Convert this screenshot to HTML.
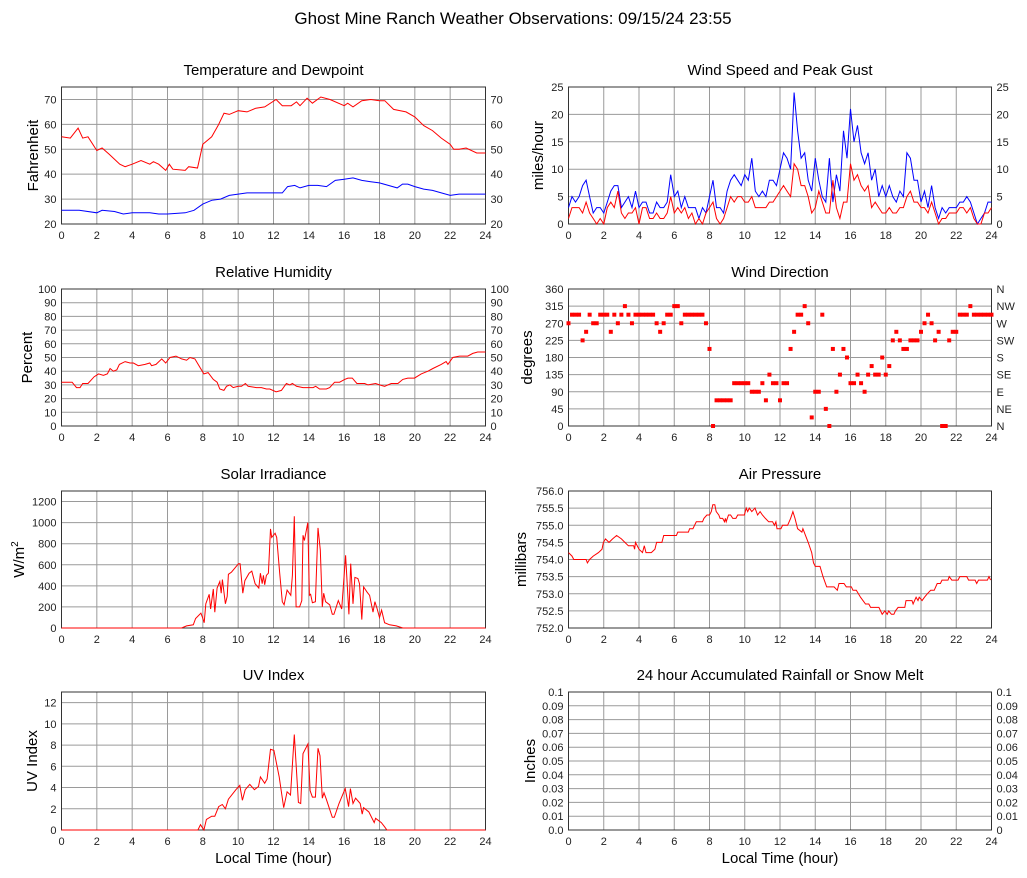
<!DOCTYPE html>
<html><head><meta charset="utf-8">
<style>
html,body{margin:0;padding:0;background:#fff;}
svg{display:block;font-family:"Liberation Sans",sans-serif;}
</style></head>
<body>
<svg id="chart" width="1027" height="878" viewBox="0 0 1027 878">
<rect width="1027" height="878" fill="#fff"/>
<text x="513" y="24" text-anchor="middle" font-size="17" fill="#000">Ghost Mine Ranch Weather Observations: 09/15/24 23:55</text>
</svg>
<script>
// ---- data ----
const tempHours=[0,0.5,0.94,1.2,1.5,2,2.3,2.7,3,3.3,3.6,4,4.5,5,5.2,5.5,5.9,6.1,6.3,7,7.2,7.7,8,8.5,8.9,9.2,9.5,10,10.5,11,11.5,12.15,12.5,13,13.3,13.5,13.9,14.2,14.68,15.2,16,16.2,16.5,17,17.5,18,18.3,18.8,19.5,20,20.5,21,21.5,22,22.2,22.5,22.9,23.5,24];
const tempValues=[55,54.5,58.5,54.5,55,49.5,50.5,48,46,44,43,44,45.5,44,45,44,41.5,44,42,41.5,43,42.5,52,55,60,64.5,64,65.5,65,66.5,67,70,67.5,67.5,69,67.5,70.5,68.5,71,70,67.5,68.5,67,69.5,70,69.5,69.5,66,65,63,59.5,57.5,54.5,52,50,50,50.5,48.5,48.5];
const dewHours=[0,0.5,1,2,2.3,3,3.5,4,5,5.5,6,7,7.5,8,8.5,9,9.5,10,10.5,11,12,12.5,12.8,13.2,13.5,14,14.5,15,15.5,16,16.5,17,17.5,18,18.5,19,19.3,19.6,20,20.5,21,21.5,22,22.5,23,24];
const dewValues=[25.5,25.5,25.5,24.5,25.5,25,24,24.5,24.5,24,24,24.5,25.5,28,29.5,30,31.5,32,32.5,32.5,32.5,32.5,35,35.5,34.5,35.5,35.5,35,37.5,38,38.5,37.5,37,36.5,35.5,34.5,36,36,35,34,33.5,32.5,31.5,32,32,32];
const windHours=[0,0.2,0.4,0.6,0.8,1,1.2,1.4,1.6,1.8,2,2.2,2.4,2.6,2.8,3,3.2,3.4,3.6,3.8,4,4.2,4.4,4.6,4.8,5,5.2,5.4,5.6,5.8,6,6.2,6.4,6.6,6.8,7,7.2,7.4,7.6,7.8,8,8.2,8.4,8.6,8.8,9,9.2,9.4,9.6,9.8,10,10.2,10.4,10.6,10.8,11,11.2,11.4,11.6,11.8,12,12.2,12.4,12.6,12.8,13,13.2,13.4,13.6,13.8,14,14.2,14.4,14.6,14.8,15,15.2,15.4,15.6,15.8,16,16.2,16.4,16.6,16.8,17,17.2,17.4,17.6,17.8,18,18.2,18.4,18.6,18.8,19,19.2,19.4,19.6,19.8,20,20.2,20.4,20.6,20.8,21,21.2,21.4,21.6,21.8,22,22.2,22.4,22.6,22.8,23,23.2,23.4,23.6,23.8,24];
const gustValues=[3,5,4,5,7,8,5,2,3,3,2,4,6,7,7,3,4,5,3,6,3,4,4,2,2,4,3,3,4,9,5,6,3,5,3,3,3,1,3,2,5,8,3,3,2,6,8,9,8,7,9,8,12,6,5,6,5,8,8,7,10,13,12,10,24,17,12,13,8,6,12,8,5,4,12,4,9,6,17,12,21,15,18,13,11,13,8,10,5,7,5,7,5,4,6,5,13,12,8,8,4,6,3,7,3,1,3,2,3,3,3,4,4,5,4,2,0,1,2,4,4];
const speedValues=[1,3,3,3,2,4,2,1,0,1,0,3,4,3,6,2,1,2,2,3,0,3,3,1,1,2,1,1,2,5,2,3,2,3,1,2,0,1,0,2,3,4,1,0,1,3,5,4,5,5,4,4,5,3,3,3,3,4,4,5,6,7,6,5,11,10,7,7,5,2,3,6,4,2,2,8,3,1,4,4,11,8,9,7,6,7,3,4,3,2,2,3,2,2,3,3,5,6,4,4,3,3,2,4,2,0,1,1,2,2,2,3,3,2,3,1,0,0,2,2,3];
const dirValues=[270,292.5,292.5,292.5,225,247.5,292.5,270,270,292.5,292.5,292.5,247.5,292.5,270,292.5,315,292.5,270,292.5,292.5,292.5,292.5,292.5,292.5,270,247.5,270,292.5,292.5,315,315,270,292.5,292.5,292.5,292.5,292.5,292.5,270,202.5,0,67.5,67.5,67.5,67.5,67.5,112.5,112.5,112.5,112.5,112.5,90,90,90,112.5,67.5,135,112.5,112.5,67.5,112.5,112.5,202.5,247.5,292.5,292.5,315,270,22.5,90,90,292.5,45,0,202.5,90,135,202.5,180,112.5,112.5,135,112.5,90,135,157.5,135,135,180,135,157.5,225,247.5,225,202.5,202.5,225,225,225,247.5,270,292.5,270,225,247.5,0,0,225,247.5,247.5,292.5,292.5,292.5,315,292.5,292.5,292.5,292.5,292.5,292.5];
const humHours=[0,0.6,0.85,1.05,1.2,1.5,1.85,2.1,2.37,2.6,2.75,2.94,3.13,3.28,3.6,3.88,4.07,4.35,4.73,5,5.1,5.35,5.67,5.9,6.14,6.48,6.8,7.08,7.27,7.55,7.83,8.06,8.3,8.59,8.81,8.96,9.19,9.34,9.53,9.72,10,10.19,10.41,10.56,11.04,11.32,11.6,11.79,12.15,12.45,12.73,12.92,13.07,13.3,13.67,14.24,14.39,14.61,14.99,15.18,15.46,15.74,16.03,16.21,16.46,16.72,16.97,17.16,17.35,17.78,18,18.29,18.66,19.04,19.32,19.6,19.98,20.36,20.74,21.02,21.49,21.77,21.87,22.15,22.53,23,23.28,23.56,24];
const humValues=[32,32,28,28,31,31,36,38,37,38,42,40,41,45,47,46,46,44,45,46,44,45,49,46,50,51,49,48,50,49,43,38,39,34,32,27,26,29,30,28,29,29,31,29,28,28,27,27,25,26,31,30,31,29,28,28,29,27,27,28,32,32,34,35,35,31,31,31,30,31,30,29,31,31,34,35,35,38,40,42,45,47,45,50,51,51,53,54,54];
const solarHours=[0,6.8,7.08,7.46,7.59,7.89,7.98,8.08,8.17,8.36,8.44,8.59,8.68,8.81,8.96,9.04,9.11,9.28,9.38,9.45,9.62,10.02,10.11,10.26,10.38,10.62,10.77,10.96,11.17,11.26,11.36,11.43,11.5,11.6,11.71,11.83,11.9,12.09,12.18,12.35,12.5,12.6,12.77,12.98,13.07,13.18,13.28,13.48,13.6,13.67,13.75,13.94,14.03,14.1,14.2,14.37,14.52,14.65,14.76,14.84,14.95,15.18,15.33,15.42,15.67,15.86,16.08,16.27,16.37,16.5,16.61,16.78,16.87,17,17.1,17.3,17.44,17.63,17.74,17.87,18,18.12,18.29,18.57,18.95,19.32,24];
const solarValues=[0,0,20,30,90,140,100,50,230,320,180,370,150,380,440,330,460,230,300,510,530,610,610,330,450,520,540,420,380,520,420,500,410,500,520,940,860,900,860,520,250,220,360,310,500,1060,200,200,260,880,830,1000,310,320,240,250,950,740,200,330,250,220,130,130,260,180,690,130,610,230,480,470,420,80,390,340,310,150,250,180,100,170,50,30,20,0,0];
const pressHours=[0,0.2,0.3,1.0,1.07,1.2,1.4,1.7,1.9,1.98,2.1,2.3,2.5,2.73,3.0,3.2,3.4,3.7,3.75,3.8,4.0,4.2,4.3,4.4,4.7,4.9,5.0,5.3,5.4,6.12,6.2,6.8,6.87,7.06,7.25,7.6,7.68,7.85,8.0,8.1,8.19,8.3,8.38,8.53,8.6,8.75,8.85,8.9,8.95,9.08,9.2,9.32,9.5,9.6,9.98,10.08,10.17,10.26,10.4,10.58,10.73,10.87,11.0,11.17,11.36,11.58,11.68,11.77,11.83,12.05,12.15,12.43,12.6,12.73,12.85,13.0,13.24,13.3,13.6,13.8,13.9,14.0,14.27,14.44,14.65,15.07,15.25,15.35,15.63,15.76,16.05,16.14,16.33,16.57,16.85,17.04,17.14,17.61,17.8,17.95,18.08,18.17,18.32,18.46,18.55,18.7,19.08,19.15,19.49,19.55,19.72,19.83,19.9,20.06,20.2,20.36,20.55,20.75,20.92,21.1,21.19,21.53,21.6,21.75,22.1,22.2,22.6,22.7,23.07,23.16,23.26,23.77,23.86,23.95];
const pressValues=[754.2,754.1,754.0,754.0,753.9,754.0,754.1,754.2,754.3,754.5,754.6,754.5,754.6,754.7,754.6,754.5,754.4,754.4,754.3,754.5,754.3,754.2,754.4,754.2,754.2,754.3,754.5,754.5,754.7,754.7,754.8,754.8,754.9,754.9,755.1,755.1,755.2,755.3,755.3,755.4,755.6,755.6,755.4,755.3,755.2,755.2,755.1,755.2,755.1,755.3,755.3,755.2,755.2,755.3,755.3,755.5,755.4,755.5,755.4,755.5,755.3,755.4,755.3,755.2,755.1,755.1,755.0,755.1,754.9,754.9,755.0,755.0,755.2,755.4,755.2,754.9,754.8,754.9,754.5,754.2,753.9,753.8,753.8,753.5,753.2,753.2,753.1,753.3,753.3,753.2,753.2,753.1,753.1,752.9,752.7,752.7,752.6,752.6,752.4,752.5,752.4,752.5,752.4,752.4,752.5,752.6,752.6,752.8,752.8,752.7,752.9,752.8,752.9,752.8,752.9,753.0,753.1,753.1,753.3,753.3,753.4,753.4,753.5,753.4,753.4,753.5,753.5,753.4,753.4,753.3,753.4,753.4,753.5,753.4];
const uvHours=[0,7.72,7.87,8.06,8.2,8.5,8.68,8.9,9.1,9.28,9.45,9.87,10.09,10.24,10.4,10.66,10.92,11.15,11.26,11.5,11.64,11.83,12.02,12.32,12.58,12.77,12.96,13.18,13.41,13.54,13.67,13.95,14.07,14.2,14.37,14.52,14.63,14.76,14.86,14.99,15.33,15.44,15.71,16.06,16.25,16.35,16.5,16.65,16.91,17.02,17.1,17.4,17.7,17.78,18.1,18.29,18.42,24];
const uvValues=[0,0,0.5,0,1,1.3,1.3,2.2,2.4,2.0,2.9,3.8,4.2,2.8,3.8,4.3,3.8,4.1,5.0,4.4,4.8,7.6,7.5,5.0,2.1,3.6,3.3,9.0,2.6,2.5,7.2,8.1,3.7,3.1,3.1,7.7,7.0,3.0,3.5,2.9,1.2,1.2,2.5,3.9,2.2,3.9,2.5,3.0,2.5,1.5,2.1,1.7,0.7,1.1,0.7,0.3,0,0];
const rainHours=[];
const rainValues=[];
const hourTicks=[0,2,4,6,8,10,12,14,16,18,20,22,24];
const tempTicks=[20,30,40,50,60,70];
const windTicks=[0,5,10,15,20,25];
const humTicks=[0,10,20,30,40,50,60,70,80,90,100];
const dirTicks=[0,45,90,135,180,225,270,315,360];
const dirLabels=["N","NE","E","SE","S","SW","W","NW","N"];
const solarTicks=[0,200,400,600,800,1000,1200];
const pressTicks=[752.0,752.5,753.0,753.5,754.0,754.5,755.0,755.5,756.0];
const uvTicks=[0,2,4,6,8,10,12];
const rainTicks=[0,0.01,0.02,0.03,0.04,0.05,0.06,0.07,0.08,0.09,0.1];

const NS="http://www.w3.org/2000/svg";
const svg=document.getElementById('chart');
function el(tag,attrs,parent){const e=document.createElementNS(NS,tag);for(const k in attrs)e.setAttribute(k,attrs[k]);(parent||svg).appendChild(e);return e;}

function panel(cfg){
  const g=el('g',{});
  
  
  const x0=cfg.left?61.5:568.5, x1=cfg.left?485.5:991.5, y0=cfg.top, y1=cfg.bottom;
  const sx=h=>x0+(h/24)*(x1-x0);
  const sy=v=>y1-(v-cfg.min)/(cfg.max-cfg.min)*(y1-y0);
  const t=el('text',{x:(x0+x1)/2,y:y0-12,'text-anchor':'middle','font-size':15},g);
  t.textContent=cfg.title;
  
  
  hourTicks.forEach(h=>{
    const l=el('line',{x1:sx(h),x2:sx(h),y1:y0,y2:y1,stroke:'#9a9a9a','stroke-width':1},g);
    
    
    const tx=el('text',{x:sx(h),y:y1+15,'text-anchor':'middle','font-size':11,fill:'#222'},g);
    tx.textContent=h;
    
    
  });
  cfg.ticks.forEach((v,i)=>{
    const l=el('line',{x1:x0,x2:x1,y1:sy(v),y2:sy(v),stroke:'#9a9a9a','stroke-width':1},g);
    
    
    const ty=el('text',{x:x0-5,y:sy(v)+4,'text-anchor':'end','font-size':11,fill:'#222'},g);
    ty.textContent=cfg.leftLabels?cfg.leftLabels[i]:v;
    
    
    if(cfg.rightLabels){
      const tr=el('text',{x:x1+5,y:sy(v)+4,'text-anchor':'start','font-size':11,fill:'#222'},g);
      tr.textContent=cfg.rightLabels[i];
      
      
    }
  });
  const b=el('rect',{x:x0,y:y0,width:x1-x0,height:y1-y0,fill:'none',stroke:'#333','stroke-width':1},g);
  
  
  const cy=(y0+y1)/2;
  const yt=el('text',{x:cfg.ytx,y:cy,'text-anchor':'middle','font-size':15,transform:`rotate(-90 ${cfg.ytx} ${cy})`},g);
  
  
  if(cfg.ytitleHTML){yt.innerHTML=cfg.ytitleHTML;}else yt.textContent=cfg.ytitle;
  if(cfg.xtitle){
    const xt=el('text',{x:(x0+x1)/2,y:y1+33,'text-anchor':'middle','font-size':15},g);
    xt.textContent='Local Time (hour)';
    
    
  }
  (cfg.series||[]).forEach(s=>{
    if(s.dots){
      s.h.forEach((h,i)=>{
        const r=el('rect',{x:sx(h)-2,y:sy(s.v[i])-2,width:4,height:4,fill:s.color},g);
        
        
      });
    } else {
      const pts=s.h.map((h,i)=>sx(h).toFixed(1)+','+sy(s.v[i]).toFixed(1)).join(' ');
      const p=el('polyline',{points:pts,fill:'none',stroke:s.color,'stroke-width':1},g);
      
      
    }
  });
}

panel({name:'temperature',title:'Temperature and Dewpoint',left:true,top:87,bottom:224,min:20,max:75,ticks:tempTicks,rightLabels:tempTicks,ytitle:'Fahrenheit',ytx:38,
  series:[{name:'temperature-line',h:tempHours,v:tempValues,color:'#ff0000'},{name:'dewpoint-line',h:dewHours,v:dewValues,color:'#0000ff'}]});
panel({name:'wind-speed',title:'Wind Speed and Peak Gust',left:false,top:87,bottom:224,min:0,max:25,ticks:windTicks,rightLabels:windTicks,ytitle:'miles/hour',ytx:543,
  series:[{name:'gust-line',h:windHours,v:gustValues,color:'#0000ff'},{name:'wind-speed-line',h:windHours,v:speedValues,color:'#ff0000'}]});
panel({name:'humidity',title:'Relative Humidity',left:true,top:289,bottom:426,min:0,max:100,ticks:humTicks,rightLabels:humTicks,ytitle:'Percent',ytx:32,
  series:[{name:'humidity-line',h:humHours,v:humValues,color:'#ff0000'}]});
panel({name:'wind-direction',title:'Wind Direction',left:false,top:289,bottom:426,min:0,max:360,ticks:dirTicks,rightLabels:dirLabels,ytitle:'degrees',ytx:532,
  series:[{name:'wind-direction-dot',h:windHours,v:dirValues,color:'#ff0000',dots:true}]});
panel({name:'solar',title:'Solar Irradiance',left:true,top:491,bottom:628,min:0,max:1300,ticks:solarTicks,ytitleHTML:'W/m<tspan dy="-6" font-size="10">2</tspan>',ytx:24,
  series:[{name:'solar-line',h:solarHours,v:solarValues,color:'#ff0000'}]});
panel({name:'pressure',title:'Air Pressure',left:false,top:491,bottom:628,min:752,max:756,ticks:pressTicks,leftLabels:pressTicks.map(v=>v.toFixed(1)),ytitle:'millibars',ytx:526,
  series:[{name:'pressure-line',h:pressHours,v:pressValues,color:'#ff0000'}]});
panel({name:'uv',title:'UV Index',left:true,top:692,bottom:830,min:0,max:13,ticks:uvTicks,ytitle:'UV Index',ytx:37,xtitle:true,
  series:[{name:'uv-line',h:uvHours,v:uvValues,color:'#ff0000'}]});
panel({name:'rainfall',title:'24 hour Accumulated Rainfall or Snow Melt',left:false,top:692,bottom:830,min:0,max:0.1,ticks:rainTicks,leftLabels:rainTicks.map(v=>v===0?'0.0':String(v)),rightLabels:rainTicks.map(v=>String(v)),ytitle:'Inches',ytx:535,xtitle:true,
  series:[{name:'rainfall-line',h:rainHours,v:rainValues,color:'#ff0000'}]});
</script>
</body></html>
